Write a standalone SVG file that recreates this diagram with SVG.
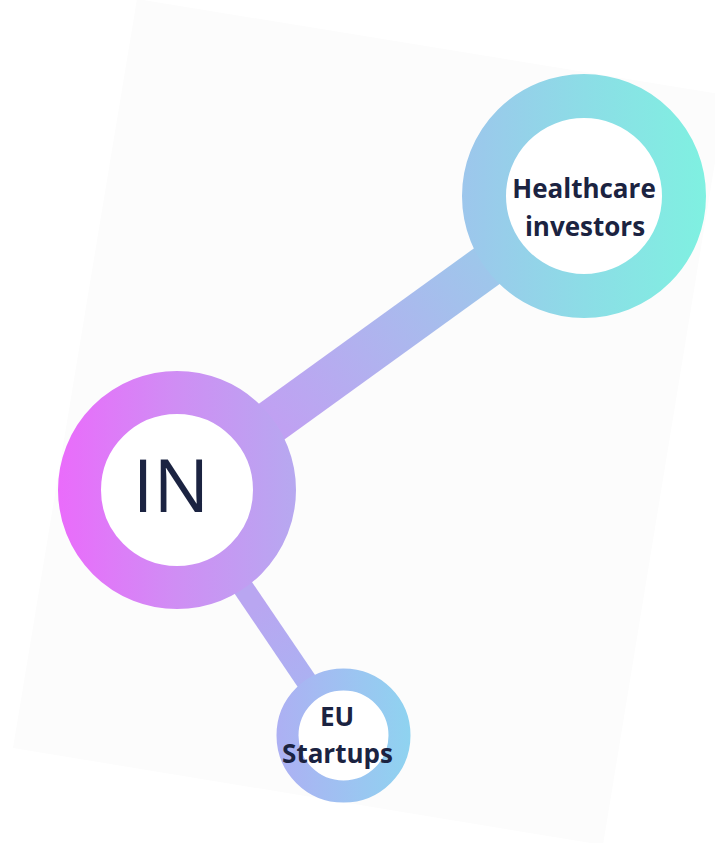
<svg xmlns="http://www.w3.org/2000/svg" width="715" height="843" viewBox="0 0 715 843">
  <defs>
    <linearGradient id="gIN" gradientUnits="userSpaceOnUse" x1="57" y1="0" x2="298" y2="0">
      <stop offset="0" stop-color="#ea6bfb"/>
      <stop offset="0.5" stop-color="#cf8ef4"/>
      <stop offset="1" stop-color="#b6a9f0"/>
    </linearGradient>
    <linearGradient id="gHC" gradientUnits="userSpaceOnUse" x1="462" y1="0" x2="708" y2="0">
      <stop offset="0" stop-color="#9dc6ec"/>
      <stop offset="0.5" stop-color="#8cdde6"/>
      <stop offset="1" stop-color="#7ff1e1"/>
    </linearGradient>
    <linearGradient id="gEU" gradientUnits="userSpaceOnUse" x1="277" y1="0" x2="410" y2="0">
      <stop offset="0" stop-color="#adb0f3"/>
      <stop offset="1" stop-color="#8fd3f0"/>
    </linearGradient>
    <linearGradient id="gBar1" gradientUnits="userSpaceOnUse" x1="250" y1="440" x2="510" y2="250">
      <stop offset="0" stop-color="#c49cf3"/>
      <stop offset="1" stop-color="#9acbea"/>
    </linearGradient>
    <linearGradient id="gBar2" gradientUnits="userSpaceOnUse" x1="250" y1="610" x2="310" y2="690">
      <stop offset="0" stop-color="#b9a6f1"/>
      <stop offset="1" stop-color="#aab2f2"/>
    </linearGradient>
    <style>
      .ring { fill: #ffffff; }
      .lbl { font-family: "Open Sans", "Liberation Sans", sans-serif; fill: #1b2341; text-anchor: middle; }
      .bold { font-weight: 700; font-size: 26px; }
      .big { font-weight: 400; font-size: 74px; }
    </style>
  </defs>

  <rect width="715" height="843" fill="#ffffff"/>
  <polygon id="background" points="137,-1 726,95 603,845 13,748" fill="#fcfcfc"/>

  <g id="connectors">
    <line x1="177" y1="490" x2="584" y2="196" stroke="url(#gBar1)" stroke-width="44"/>
    <line x1="177" y1="490" x2="343" y2="735" stroke="url(#gBar2)" stroke-width="21"/>
  </g>

  <g id="node-in">
    <circle class="ring" cx="177" cy="490" r="97.5" stroke="url(#gIN)" stroke-width="43"/>
    <text class="lbl big" x="171" y="512">IN</text>
  </g>

  <g id="node-healthcare">
    <circle class="ring" cx="584" cy="196" r="100" stroke="url(#gHC)" stroke-width="44"/>
    <text class="lbl bold" x="584" y="198">Healthcare</text>
    <text class="lbl bold" x="585" y="236">investors</text>
  </g>

  <g id="node-eu">
    <circle class="ring" cx="343.5" cy="735.5" r="56" stroke="url(#gEU)" stroke-width="22"/>
    <text class="lbl bold" x="337" y="726">EU</text>
    <text class="lbl bold" x="337.5" y="763">Startups</text>
  </g>
</svg>
